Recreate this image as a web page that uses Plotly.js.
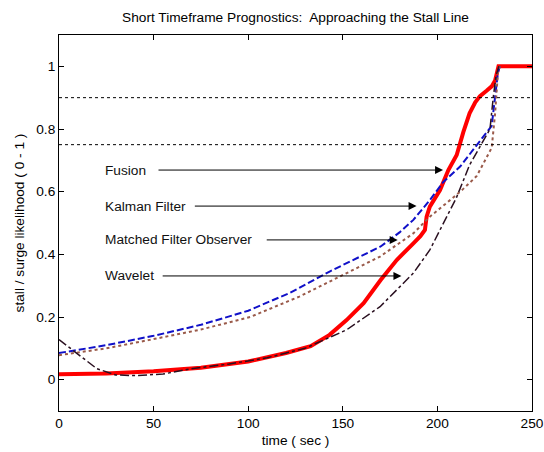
<!DOCTYPE html>
<html>
<head>
<meta charset="utf-8">
<script src="https://cdn.plot.ly/plotly-3.0.1.min.js"></script>
<style>html,body{margin:0;padding:0;background:#fff;}#chart{width:544px;height:452px;}</style>
</head>
<body>
<div id="chart"></div>
<script>
// Fusion (red, thick solid)
const fusionT = [0, 25, 50, 75, 100, 120, 133, 143, 152, 161, 170, 178.5, 187.3, 191, 193.4, 194.3, 196, 198.5, 201.4, 205.8, 210.2, 213.7, 217, 220, 222.5, 226, 228.7, 230.5, 231.5, 232.3, 250];
const fusionY = [0.017, 0.02, 0.027, 0.038, 0.058, 0.085, 0.107, 0.143, 0.19, 0.244, 0.318, 0.382, 0.435, 0.458, 0.478, 0.52, 0.552, 0.578, 0.605, 0.669, 0.717, 0.79, 0.85, 0.885, 0.905, 0.922, 0.936, 0.955, 0.985, 1.0, 1.0];
// Kalman Filter (blue dashed)
const kalmanT = [0, 25, 50, 75, 100, 122, 143, 160, 170, 180, 187.3, 196, 203, 212, 222.5, 228.7, 232, 233];
const kalmanY = [0.085, 0.11, 0.14, 0.175, 0.22, 0.277, 0.345, 0.395, 0.425, 0.47, 0.51, 0.573, 0.63, 0.68, 0.76, 0.81, 0.98, 1.0];
// Matched Filter Observer (brown dotted)
const matchedT = [0, 25, 48, 75, 101, 127, 143, 169.7, 187.3, 196, 206.7, 213, 220.8, 228.7, 230.5, 232, 233];
const matchedY = [0.078, 0.1, 0.127, 0.16, 0.2, 0.265, 0.313, 0.393, 0.467, 0.52, 0.573, 0.605, 0.65, 0.74, 0.85, 0.98, 1.0];
// Wavelet (dark dash-dot)
const waveletT = [0, 10, 20, 30, 40, 55, 70, 90, 110, 130, 145, 152, 169.7, 187.3, 196, 205, 210, 217, 222, 227.8, 229.5, 231, 232.5];
const waveletY = [0.128, 0.08, 0.035, 0.015, 0.013, 0.018, 0.035, 0.05, 0.07, 0.1, 0.14, 0.159, 0.233, 0.34, 0.414, 0.52, 0.58, 0.685, 0.74, 0.80, 0.90, 0.97, 1.0];
// Threshold lines
const thresholds = [0.9, 0.75];
// Labels with arrows
const labels = ["Fusion", "Kalman Filter", "Matched Filter Observer", "Wavelet"];
const labelY = [0.669, 0.554, 0.446, 0.331];
const labelTextX = [23.3, 23.3, 23.3, 23.3];
const arrowStartX = [51.8, 71, 109, 54];
const arrowTipX = [203, 189, 179, 181];
const xTicks = [0, 50, 100, 150, 200, 250];
const yTicks = [0, 0.2, 0.4, 0.6, 0.8, 1];

const FONT = 'Liberation Sans, Arial, sans-serif';
const FS = 13.7;

const traces = [
  {x: fusionT, y: fusionY, mode: 'lines', line: {color: '#ff0000', width: 4}, name: 'Fusion'},
  {x: kalmanT, y: kalmanY, mode: 'lines', line: {color: '#1010c8', width: 2, dash: '7px,3px'}, name: 'Kalman Filter'},
  {x: matchedT, y: matchedY, mode: 'lines', line: {color: '#9a5a4a', width: 2, dash: 'dot'}, name: 'Matched Filter Observer'},
  {x: waveletT, y: waveletY, mode: 'lines', line: {color: '#2a1020', width: 1.5, dash: 'dashdot'}, name: 'Wavelet'}
];

const shapes = thresholds.map(v => ({
  type: 'line', xref: 'paper', x0: 0, x1: 1, yref: 'y', y0: v, y1: v,
  line: {color: '#000', width: 1, dash: 'dot'}
}));

const annotations = [];
labels.forEach((lab, i) => {
  annotations.push({x: labelTextX[i], y: labelY[i], xref: 'x', yref: 'y', text: lab, showarrow: false,
    xanchor: 'left', yanchor: 'middle', font: {family: FONT, size: FS, color: '#111'}});
  annotations.push({x: arrowTipX[i], y: labelY[i], ax: arrowStartX[i], ay: labelY[i], axref: 'x', ayref: 'y',
    xref: 'x', yref: 'y', text: '', showarrow: true, arrowhead: 2, arrowsize: 1.6, arrowwidth: 1, arrowcolor: '#000'});
});

const axisCommon = {
  showline: true, linecolor: '#000', linewidth: 1, mirror: 'ticks', ticks: 'inside', ticklen: 5,
  tickcolor: '#000', showgrid: false, zeroline: false,
  tickfont: {family: FONT, size: FS, color: '#000'}
};

const layout = {
  width: 544, height: 452,
  margin: {l: 59, r: 12, t: 35, b: 41},
  paper_bgcolor: '#fff', plot_bgcolor: '#fff',
  showlegend: false,
  font: {family: FONT, size: FS, color: '#000'},
  title: {text: 'Short Timeframe Prognostics:\u00a0 Approaching the Stall Line', x: 0.5, xref: 'paper',
    y: 1 - 17/452, yref: 'container', yanchor: 'middle', font: {size: FS, color: '#000'}},
  xaxis: Object.assign({}, axisCommon, {range: [0, 250], tickvals: xTicks, ticktext: xTicks.map(String),
    title: {text: 'time ( sec )', standoff: 4, font: {size: FS}}}),
  yaxis: Object.assign({}, axisCommon, {range: [-0.1, 1.1], tickvals: yTicks, ticktext: yTicks.map(String),
    title: {text: 'stall / surge likelihood ( 0 - 1 )', standoff: 8, font: {size: FS}}}),
  shapes: shapes,
  annotations: annotations
};

Plotly.newPlot('chart', traces, layout, {staticPlot: true, displayModeBar: false});
</script>
</body>
</html>
